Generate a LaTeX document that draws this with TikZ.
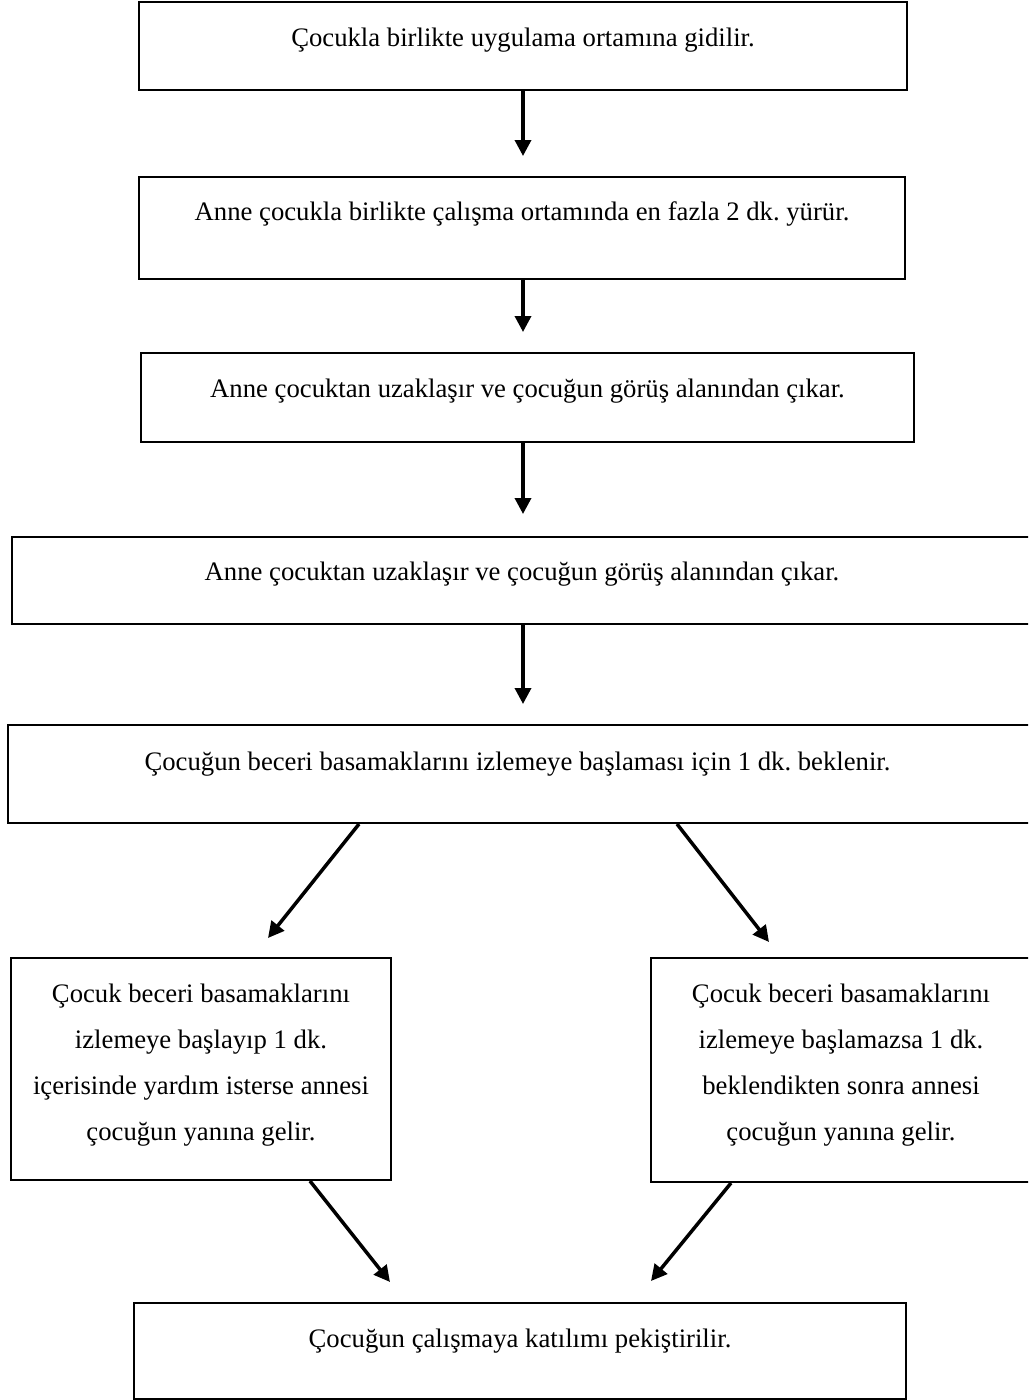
\documentclass[tikz,border=0pt]{standalone}
\usepackage{fontspec}
\setmainfont{Liberation Serif}
\usetikzlibrary{arrows.meta}
\frenchspacing
\tikzset{
  box/.style={draw, line width=2pt, rectangle, inner sep=0pt},
  txt/.style={font=\fontsize{26.7}{46}\selectfont\frenchspacing, align=center, inner sep=0pt, anchor=base},
  mtxt/.style={font=\fontsize{26.7}{46}\selectfont\frenchspacing, align=center, inner sep=0pt, anchor=center},
  arr/.style={line width=3.5pt, -{Triangle[length=16pt,width=16pt]}}
}
\begin{document}
\begin{tikzpicture}[x=1pt,y=-1pt]
\useasboundingbox (0,0) rectangle (1028,1400);
\clip (0,0) rectangle (1028,1400);
% boxes
\node[box, minimum width=768pt, minimum height=88pt] (b1) at (523,46) {};
\node[box, minimum width=766pt, minimum height=102pt] (b2) at (522,228) {};
\node[box, minimum width=773pt, minimum height=89pt] (b3) at (527.5,397.5) {};
\node[box, minimum width=1020pt, minimum height=87pt] (b4) at (522,580.5) {};
\node[box, minimum width=1022pt, minimum height=98pt] (b5) at (519,774) {};
\node[box, minimum width=380pt, minimum height=222pt] (b6) at (201,1069) {};
\node[box, minimum width=380pt, minimum height=224pt] (b7) at (841,1070) {};
\node[box, minimum width=772pt, minimum height=96pt] (b8) at (520,1351) {};
% texts
\node[txt] (t1) at (523,46) {Çocukla birlikte uygulama ortamına gidilir.};
\node[txt] (t2) at (522,220) {Anne çocukla birlikte çalışma ortamında en fazla 2 dk. yürür.};
\node[txt] (t3) at (527.5,397) {Anne çocuktan uzaklaşır ve çocuğun görüş alanından çıkar.};
\node[txt] (t4) at (522,580) {Anne çocuktan uzaklaşır ve çocuğun görüş alanından çıkar.};
\node[txt] (t5) at (517.5,770) {Çocuğun beceri basamaklarını izlemeye başlaması için 1 dk. beklenir.};
\node[mtxt] (t6) at (201,1065) {Çocuk beceri basamaklarını\\izlemeye başlayıp 1 dk.\\içerisinde yardım isterse annesi\\çocuğun yanına gelir.};
\node[mtxt] (t7) at (841,1065) {Çocuk beceri basamaklarını\\izlemeye başlamazsa 1 dk.\\beklendikten sonra annesi\\çocuğun yanına gelir.};
\node[txt] (t8) at (520,1347) {Çocuğun çalışmaya katılımı pekiştirilir.};
% arrows
\draw[arr, shorten >=20pt] (b1.south) -- (b2.north -| b1.south);
\draw[arr, shorten >=20pt] (b2.south -| b1.south) -- (b3.north -| b1.south);
\draw[arr, shorten >=22pt] (b3.south -| b1.south) -- (b4.north -| b1.south);
\draw[arr, shorten >=20pt] (b4.south -| b1.south) -- (b5.north -| b1.south);
\draw[arr] ([xshift=-160pt]b5.south) -- ([xshift=67pt,yshift=19pt]b6.north);
\draw[arr] ([xshift=158pt]b5.south) -- ([xshift=-72pt,yshift=15pt]b7.north);
\draw[arr] ([xshift=109pt]b6.south) -- ([xshift=-130pt,yshift=20pt]b8.north);
\draw[arr] ([xshift=-110pt]b7.south) -- ([xshift=131pt,yshift=21pt]b8.north);
\end{tikzpicture}
\end{document}
